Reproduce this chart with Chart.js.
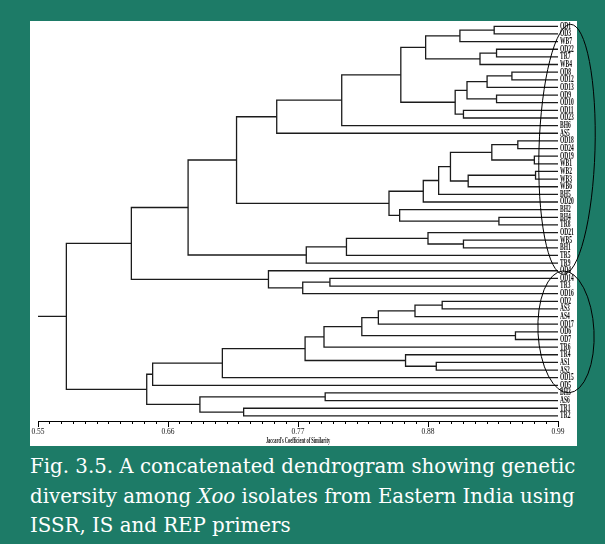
<!DOCTYPE html>
<html>
<head>
<meta charset="utf-8">
<title>Dendrogram of Xoo isolates</title>
<script src="https://cdn.jsdelivr.net/npm/chart.js@4.4.1/dist/chart.umd.min.js"></script>
<style>
    html, body { margin: 0; padding: 0; }
    body { width: 605px; height: 544px; background: #1d7b67; position: relative; overflow: hidden; }
    .panel { position: absolute; left: 30px; top: 21px; width: 547px; height: 425px; background: #fff; }
    .chart-box { position: absolute; left: 0; top: 0; width: 605px; height: 450px; }
    .caption { position: absolute; left: 30px; top: 452px; color: #fff; font-family: "DejaVu Serif", serif;
               font-size: 19.8px; line-height: 29.5px; white-space: nowrap; }
</style>
</head>
<body>
<div class="panel"></div>
<div class="chart-box"><canvas id="dendro"></canvas></div>
<div class="caption">Fig. 3.5. A concatenated dendrogram showing genetic<br>diversity among <i>Xoo</i> isolates from Eastern India using<br>ISSR, IS and REP primers</div>
<script>
(function () {
    "use strict";

    // Isolates, top to bottom
    var leafLabels = ["OD1", "OD3", "WB7", "OD22", "TR7", "WB4", "OD8", "OD12", "OD13", "OD9", "OD10",
        "OD11", "OD23", "BH6", "AS5", "OD18", "OD24", "OD19", "WB1", "WB2", "WB3", "WB6", "BH5", "OD20",
        "BH2", "BH4", "TR8", "OD21", "WB5", "BH1", "TR5", "TR9", "OD4", "OD14", "TR3", "OD16", "OD2",
        "AS3", "AS4", "OD17", "OD6", "OD7", "TR6", "TR4", "AS1", "AS2", "OD15", "OD5", "BH3", "AS6",
        "TR1", "TR2"];

    // Merges (linkage): ids below 52 are isolates, 52 + n is the cluster made by merge n
    var mergeA = [0, 52, 3, 54, 53, 6, 57, 9, 58, 11, 60, 56, 63, 64, 15, 17, 66, 19, 69, 68, 71, 72, 25, 24, 73,
        65, 28, 27, 79, 80, 77, 33, 83, 32, 82, 36, 87, 88, 40, 89, 91, 44, 43, 92, 95, 96, 48, 50, 98, 97, 86];
    var mergeB = [1, 2, 4, 5, 55, 7, 8, 10, 59, 12, 61, 62, 13, 14, 16, 18, 67, 20, 21, 70, 22, 23, 26, 74, 75,
        76, 29, 78, 30, 31, 81, 34, 35, 84, 85, 37, 38, 39, 41, 90, 42, 45, 93, 94, 46, 47, 49, 51, 99, 100, 101];
    var mergeSim = [0.936, 0.907, 0.938, 0.924, 0.878, 0.951, 0.930, 0.938, 0.913, 0.910, 0.903, 0.857, 0.807,
        0.752, 0.956, 0.970, 0.934, 0.971, 0.914, 0.899, 0.889, 0.876, 0.940, 0.856, 0.847, 0.718, 0.910,
        0.880, 0.811, 0.777, 0.677, 0.797, 0.774, 0.745, 0.629, 0.892, 0.869, 0.838, 0.954, 0.824, 0.792,
        0.887, 0.861, 0.776, 0.706, 0.647, 0.793, 0.724, 0.687, 0.642, 0.574];

    // Axis
    var xTicks = [0.55, 0.66, 0.77, 0.88, 0.99];
    var xMin = 0.55, xMax = 0.99, xStep = 0.01;
    var axisTitle = "Jaccard's Coefficient of Similarity";

    // Build the elbow lines from the linkage
    var nodeX = [], nodeY = [];
    leafLabels.forEach(function (l, i) { nodeX.push(xMax); nodeY.push(i); });
    var segments = [];
    for (var m = 0; m < mergeA.length; m++) {
        var a = mergeA[m], b = mergeB[m], h = mergeSim[m];
        segments.push([
            { x: nodeX[a], y: nodeY[a] }, { x: h, y: nodeY[a] },
            { x: h, y: nodeY[b] }, { x: nodeX[b], y: nodeY[b] }
        ]);
        nodeX.push(h);
        nodeY.push((nodeY[a] + nodeY[b]) / 2);
    }
    var root = nodeX.length - 1;
    segments.push([{ x: xMin, y: nodeY[root] }, { x: nodeX[root], y: nodeY[root] }]);

    function squeezed(ctx, text, x, y, sx, align) {
        ctx.save();
        ctx.translate(x, y);
        ctx.scale(sx, 1);
        ctx.textAlign = align;
        ctx.fillText(text, 0, 0);
        ctx.restore();
    }

    // Labels, long ticks and the two circled groups
    var decor = {
        id: "decor",
        afterDraw: function (chart) {
            var ctx = chart.ctx, xs = chart.scales.x, ys = chart.scales.y, area = chart.chartArea;
            ctx.save();
            ctx.strokeStyle = "#000";
            ctx.lineWidth = 1;
            xTicks.forEach(function (v) {
                var px = Math.round(xs.getPixelForValue(v)) + 0.5;
                ctx.beginPath();
                ctx.moveTo(px, area.bottom);
                ctx.lineTo(px, area.bottom + 6);
                ctx.stroke();
            });

            ctx.fillStyle = "#111";
            ctx.textBaseline = "middle";
            ctx.font = "bold 9.5px 'Liberation Serif'";
            leafLabels.forEach(function (l, i) {
                squeezed(ctx, l, area.right + 2, ys.getPixelForValue(i), 0.58, "left");
            });
            ctx.font = "bold 8px 'Liberation Serif'";
            squeezed(ctx, axisTitle, xs.getPixelForValue((xMin + xMax) / 2), area.bottom + 20, 0.55, "center");

            var ex = area.right + 9;
            ctx.beginPath();
            ctx.ellipse(ex, ys.getPixelForValue(16.1), 28, 125, 0.03, 0, Math.PI * 2);
            ctx.stroke();
            ctx.beginPath();
            ctx.ellipse(ex - 1, ys.getPixelForValue(40), 28, 61, -0.05, 0, Math.PI * 2);
            ctx.stroke();
            ctx.restore();
        }
    };

    var ctx1 = document.getElementById("dendro").getContext("2d");
    var myChart1 = new Chart(ctx1, {
        type: "scatter",
        data: {
            datasets: segments.map(function (pts) {
                return {
                    data: pts,
                    showLine: true,
                    borderColor: "#1b1b1b",
                    borderWidth: 1.3,
                    pointRadius: 0,
                    fill: false
                };
            })
        },
        options: {
            responsive: true,
            maintainAspectRatio: false,
            animation: false,
            events: [],
            layout: { padding: { left: 38, right: 47, top: 22.5, bottom: 0 } },
            plugins: { legend: { display: false }, tooltip: { enabled: false } },
            scales: {
                x: {
                    type: "linear",
                    min: xMin,
                    max: xMax,
                    afterBuildTicks: function (scale) {
                        var t = [];
                        for (var k = 0; k <= Math.round((xMax - xMin) / xStep); k++) {
                            t.push({ value: xMin + k * xStep });
                        }
                        scale.ticks = t;
                    },
                    afterFit: function (scale) { scale.height = 29; },
                    ticks: {
                        autoSkip: false,
                        maxRotation: 0,
                        padding: 4,
                        color: "#111",
                        font: { family: "Liberation Serif", size: 7.5 },
                        callback: function (v) {
                            var hit = xTicks.filter(function (t) { return Math.abs(t - v) < 1e-6; });
                            return hit.length ? hit[0].toFixed(2) : "";
                        }
                    },
                    grid: { drawOnChartArea: false, tickLength: 3, color: "#000" },
                    border: { color: "#000", width: 1 }
                },
                y: { type: "linear", display: false, reverse: true, min: -0.5, max: 51.67 }
            }
        },
        plugins: [decor]
    });
})();
</script>
</body>
</html>
